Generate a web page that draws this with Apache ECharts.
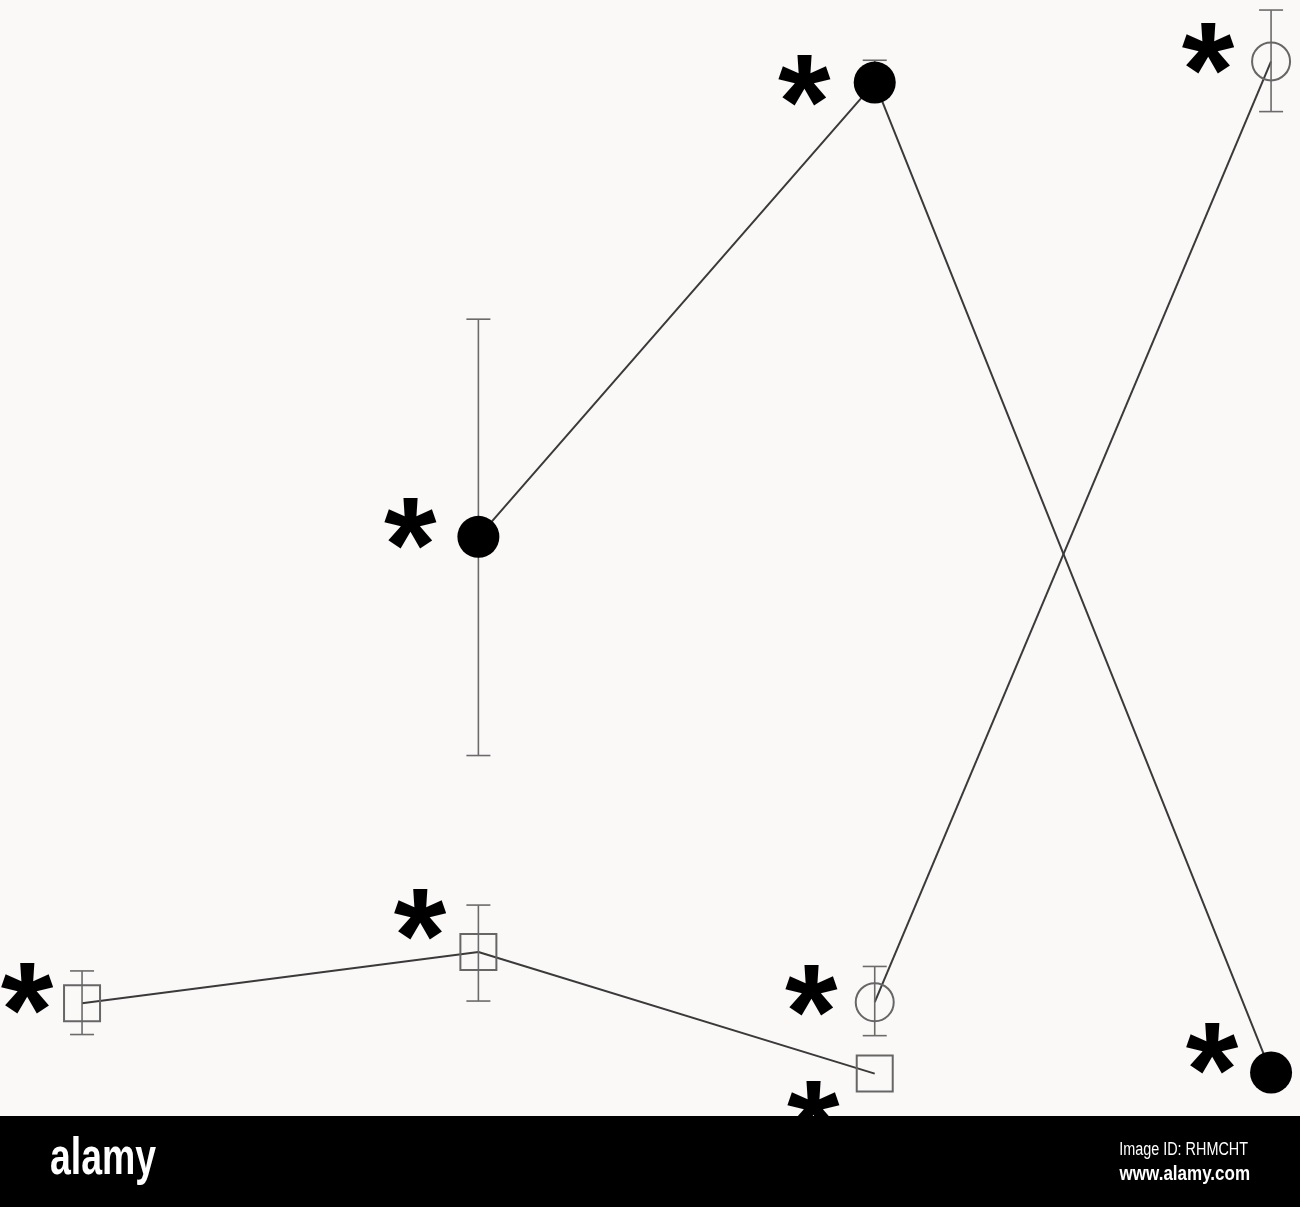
<!DOCTYPE html>
<html>
<head>
<meta charset="utf-8">
<title>chart</title>
<script src="https://cdn.jsdelivr.net/npm/echarts@6/dist/echarts.min.js"></script>
<style>
html, body { margin: 0; padding: 0; background: #fbf8f8; }
#main { width: 1300px; height: 1207px; }
</style>
</head>
<body>
<div id="main"></div>
<script>
// open squares
var squareX = [1, 2, 3];
var squareVals = [10.1, 14.7, 3.8];
var squareLow = [7.3, 10.3, null];
var squareHigh = [13.0, 18.9, null];
// filled circles
var filledX = [2, 3, 4];
var filledVals = [51.9, 92.6, 3.9];
var filledLow = [32.3, 92.6, null];
var filledHigh = [71.4, 94.6, null];
// open circles
var openX = [3, 4];
var openVals = [10.2, 94.5];
var openLow = [7.2, 90.0];
var openHigh = [13.4, 99.1];
// asterisk marks (significance)
var starX = [0.861, 1.853, 2.845, 2.840, 1.828, 2.822, 3.841, 3.851];
var starY = [12.3, 18.9, 1.7, 12.1, 54.0, 93.7, 96.5, 6.9];

function pairs(xs, ys) {
    var out = [];
    for (var i = 0; i < xs.length; i++) out.push([xs[i], ys[i]]);
    return out;
}
function errs(xs, lo, hi) {
    var out = [];
    for (var i = 0; i < xs.length; i++) {
        if (lo[i] != null) out.push([xs[i], lo[i], hi[i]]);
    }
    return out;
}

function errorBar(params, api) {
    var x = api.value(0);
    var p1 = api.coord([x, api.value(1)]);
    var p2 = api.coord([x, api.value(2)]);
    var w = 12;
    var st = { stroke: '#6b6b6b', lineWidth: 1.6 };
    return {
        type: 'group',
        children: [
            { type: 'line', shape: { x1: p1[0], y1: p1[1], x2: p2[0], y2: p2[1] }, style: st },
            { type: 'line', shape: { x1: p1[0] - w, y1: p1[1], x2: p1[0] + w, y2: p1[1] }, style: st },
            { type: 'line', shape: { x1: p2[0] - w, y1: p2[1], x2: p2[0] + w, y2: p2[1] }, style: st }
        ]
    };
}

var chart = echarts.init(document.getElementById('main'));
var lineStyle = { color: '#3a3a3a', width: 2 };

var option = {
    backgroundColor: '#fbf8f8',
    animation: false,
    grid: { left: 0, right: 0, top: 0, height: 1116 },
    xAxis: { type: 'value', min: 0.793, max: 4.073, show: false },
    yAxis: { type: 'value', min: 0, max: 100, show: false },
    series: [
        { type: 'line', data: pairs(squareX, squareVals), symbol: 'none', lineStyle: lineStyle, z: 2 },
        { type: 'line', data: pairs(filledX, filledVals), symbol: 'none', lineStyle: lineStyle, z: 2 },
        { type: 'line', data: pairs(openX, openVals), symbol: 'none', lineStyle: lineStyle, z: 2 },
        { type: 'custom', renderItem: errorBar, data: errs(squareX, squareLow, squareHigh), encode: { x: 0, y: [1, 2] }, z: 3 },
        { type: 'custom', renderItem: errorBar, data: errs(filledX, filledLow, filledHigh), encode: { x: 0, y: [1, 2] }, z: 3 },
        { type: 'custom', renderItem: errorBar, data: errs(openX, openLow, openHigh), encode: { x: 0, y: [1, 2] }, z: 3 },
        {
            type: 'scatter', data: pairs(squareX, squareVals), symbol: 'rect', symbolSize: 36, z: 4,
            itemStyle: { color: 'rgba(0,0,0,0)', borderColor: '#666', borderWidth: 2, opacity: 1 }
        },
        {
            type: 'scatter', data: pairs(openX, openVals), symbol: 'circle', symbolSize: 38, z: 4,
            itemStyle: { color: 'rgba(0,0,0,0)', borderColor: '#666', borderWidth: 2, opacity: 1 }
        },
        {
            type: 'scatter', data: pairs(filledX, filledVals), symbol: 'circle', symbolSize: 42, z: 5,
            itemStyle: { color: '#000', opacity: 1 }
        },
        {
            type: 'scatter', data: pairs(starX, starY), symbol: 'circle', symbolSize: 1, z: 6,
            itemStyle: { color: 'rgba(0,0,0,0)', opacity: 1 },
            label: {
                show: true, position: 'inside', formatter: '*', offset: [0, 40],
                fontSize: 135, fontWeight: 'bold', fontFamily: 'Liberation Sans', color: '#000'
            }
        }
    ],
    graphic: [
        { type: 'rect', left: 0, top: 1116, shape: { width: 1300, height: 91 }, style: { fill: '#000' }, z: 100 },
        {
            type: 'text', x: 50, y: 1134, scaleX: 0.72, z: 101,
            style: { text: 'alamy', font: 'bold 52px "Liberation Sans"', fill: '#fff', textVerticalAlign: 'top' }
        },
        {
            type: 'text', x: 1248, y: 1150, scaleX: 0.8, z: 101,
            style: { text: 'Image ID: RHMCHT', font: '18px "Liberation Sans"', fill: '#fff', textAlign: 'right', textVerticalAlign: 'middle' }
        },
        {
            type: 'text', x: 1250, y: 1174, scaleX: 0.85, z: 101,
            style: { text: 'www.alamy.com', font: 'bold 20px "Liberation Sans"', fill: '#fff', textAlign: 'right', textVerticalAlign: 'middle' }
        }
    ]
};
chart.setOption(option);
</script>
</body>
</html>
